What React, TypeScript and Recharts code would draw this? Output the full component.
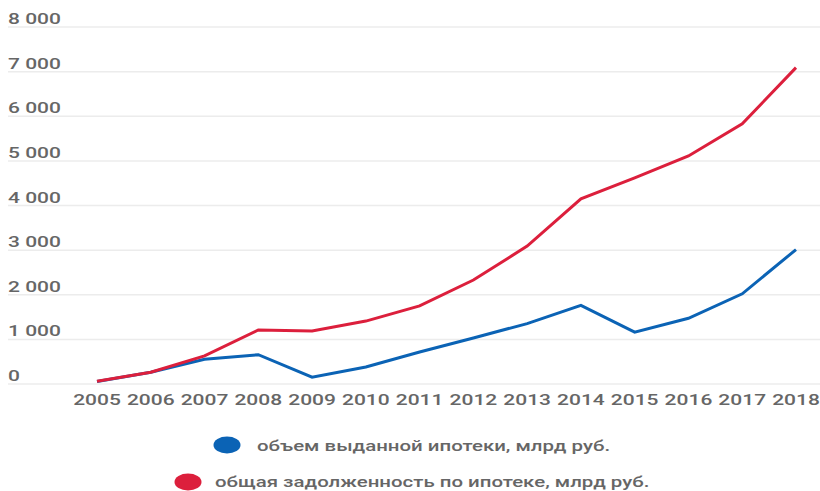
import React from 'react';
import { LineChart, Line, XAxis, YAxis, CartesianGrid, Legend } from 'recharts';

const years = ['2005', '2006', '2007', '2008', '2009', '2010', '2011', '2012', '2013', '2014', '2015', '2016', '2017', '2018'];
const issued = [56, 264, 556, 656, 152, 380, 717, 1032, 1354, 1762, 1161, 1473, 2021, 3013];
const debt = [60, 263, 631, 1210, 1190, 1410, 1750, 2330, 3090, 4150, 4620, 5110, 5830, 7090];
const yTicks = [0, 1000, 2000, 3000, 4000, 5000, 6000, 7000, 8000];
const issuedName = 'объем выданной ипотеки, млрд руб.';
const debtName = 'общая задолженность по ипотеке, млрд руб.';

const data = years.map((y, i) => ({ year: y, issued: issued[i], debt: debt[i] }));

const BLUE = '#0b63b5';
const RED = '#dc1f3c';
const TEXT = '#666666';
const FONT = 'Roboto, sans-serif';
const SX = 1.4;

const fmt = (v: number) => (v === 0 ? '0' : String(v).replace(/\B(?=(\d{3})+(?!\d))/g, ' '));

const XTick = (props: any) => {
  const { x, y, payload } = props;
  return (
    <text
      transform={`translate(${x},${y + 21}) scale(${SX},1)`}
      textAnchor="middle"
      fill={TEXT}
      fontFamily={FONT}
      fontWeight={500}
      fontSize={15}
    >
      {payload.value}
    </text>
  );
};

const YTick = (props: any) => {
  const { y, payload } = props;
  return (
    <text
      transform={`translate(8,${y - 3}) scale(${SX},1)`}
      textAnchor="start"
      fill={TEXT}
      fontFamily={FONT}
      fontWeight={500}
      fontSize={15}
    >
      {fmt(payload.value)}
    </text>
  );
};

const LegendContent = (props: any) => {
  const payload = props.payload || [];
  const blue = payload.find((p: any) => p.dataKey === 'issued');
  const red = payload.find((p: any) => p.dataKey === 'debt');
  return (
    <svg width={820} height={66} style={{ display: 'block', overflow: 'visible' }}>
      {blue && (
        <g>
          <ellipse cx={227} cy={19} rx={13.5} ry={8.5} fill={blue.color} />
          <text
            transform={`translate(257,25) scale(${SX},1)`}
            fill={TEXT}
            fontFamily={FONT}
            fontWeight={500}
            fontSize={14.6}
          >
            {blue.value}
          </text>
        </g>
      )}
      {red && (
        <g>
          <ellipse cx={188} cy={56} rx={13.5} ry={8.5} fill={red.color} />
          <text
            transform={`translate(215,61) scale(${SX},1)`}
            fill={TEXT}
            fontFamily={FONT}
            fontWeight={500}
            fontSize={14.6}
          >
            {red.value}
          </text>
        </g>
      )}
    </svg>
  );
};

export default function App() {
  return (
    <div style={{ position: 'absolute', left: 0, top: 0, width: 820, height: 491, background: '#fff', overflow: 'hidden' }}>
      <LineChart width={820} height={491} data={data} margin={{ top: 27, right: 0, bottom: 11, left: 7 }}>
        <CartesianGrid vertical={false} stroke="#ececec" strokeWidth={1.5} />
        <XAxis
          dataKey="year"
          padding={{ left: 89, right: 24 }}
          axisLine={false}
          tickLine={false}
          tickSize={0}
          tickMargin={0}
          height={30}
          interval={0}
          tick={<XTick />}
        />
        <YAxis
          width={1}
          domain={[0, 8000]}
          ticks={yTicks}
          axisLine={false}
          tickLine={false}
          tick={<YTick />}
          interval={0}
        />
        <Legend
          verticalAlign="bottom"
          content={<LegendContent />}
          wrapperStyle={{ height: 66, left: 0, width: 820, top: 426 }}
        />
        <Line type="linear" dataKey="issued" name={issuedName} stroke={BLUE} strokeWidth={3} dot={false} isAnimationActive={false} />
        <Line type="linear" dataKey="debt" name={debtName} stroke={RED} strokeWidth={3} dot={false} isAnimationActive={false} />
      </LineChart>
    </div>
  );
}
